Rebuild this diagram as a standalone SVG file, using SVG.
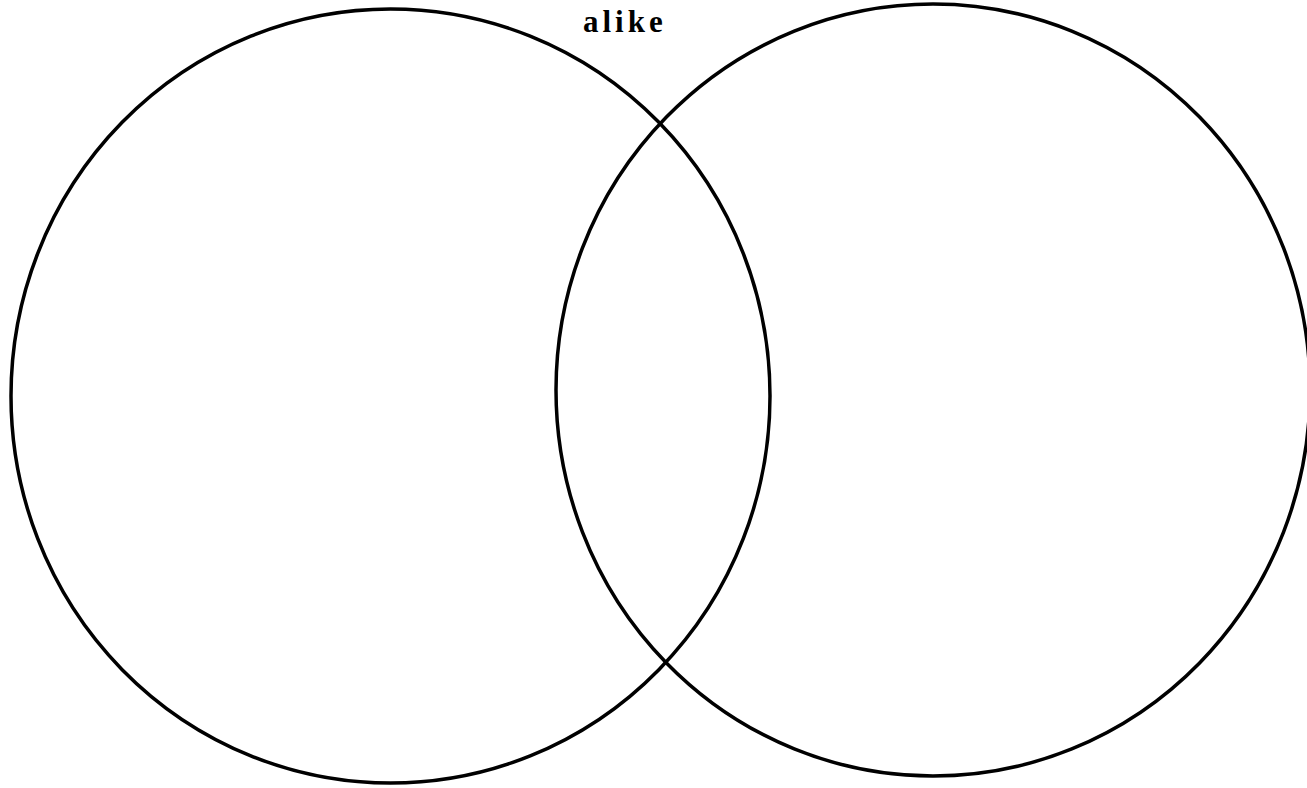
<svg xmlns="http://www.w3.org/2000/svg" width="1307" height="788" viewBox="0 0 1307 788">
<style>
.c{fill:none;stroke:#000;stroke-width:3.5}
.t{font-family:"Liberation Serif",serif;font-weight:bold;font-size:31px;letter-spacing:4px;fill:#000}
</style>
<rect width="1307" height="788" fill="#fff"/>
<g id="left-circle"><ellipse class="c" cx="390.5" cy="396" rx="379.5" ry="387"/></g>
<g id="right-circle"><ellipse class="c" cx="933" cy="390" rx="377" ry="386"/></g>
<g id="label"><text class="t" x="583" y="32">alike</text></g>
</svg>
